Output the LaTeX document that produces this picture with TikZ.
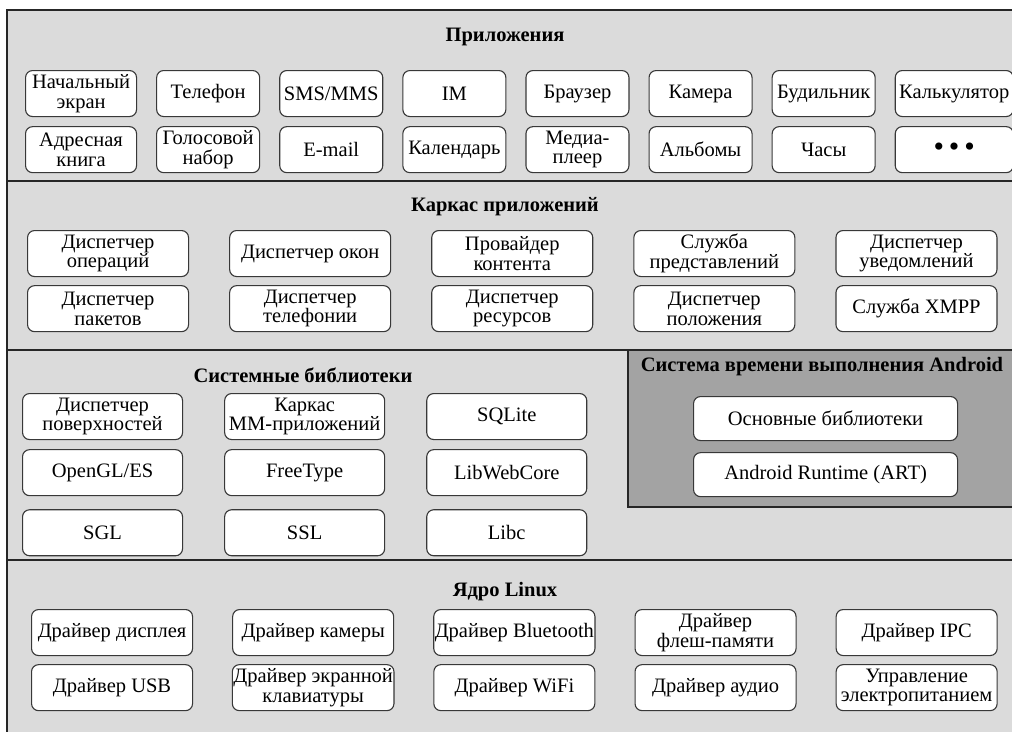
\documentclass[tikz,border=0pt]{standalone}
\usepackage{fontspec}
\setmainfont{Liberation Serif}
\usetikzlibrary{positioning}
\definecolor{layerbg}{gray}{0.86}
\definecolor{rtbg}{gray}{0.64}
\definecolor{edge}{gray}{0.22}

\begin{document}
\begin{tikzpicture}[
    x=1pt, y=-1pt,
    every node/.style={font=\fontsize{20.5}{19.5}\selectfont},
    box/.style={
      draw=edge,
      fill=white,
      rounded corners=7pt,
      align=center,
      line width=1.1pt,
      minimum height=46pt,
      inner xsep=1pt,
      inner ysep=1pt
    },
    app/.style={box, minimum width=103pt},
    wide/.style={box, minimum width=161pt},
    title/.style={font=\fontsize{20.5}{19.5}\selectfont\bfseries},
    sep/.style={line width=2.2pt, draw=black!85}
  ]
    \useasboundingbox (0,0) rectangle (1012,731);
    \fill[layerbg] (7,10) rectangle (1014,733);
    \fill[rtbg] (628,350) rectangle (1014,507);
    \draw[line width=1.6pt, draw=black!85] (628,350) -- (628,507) -- (1014,507);
    \draw[sep] (1014,10) -- (7,10) -- (7,733);
    \draw[sep] (7,181) -- (1014,181);
    \draw[sep] (7,350) -- (1014,350);
    \draw[sep] (7,560) -- (1014,560);

    % applications
    \node[title] (tapps) at (505,37) {Приложения};
    \node[app, minimum width=111pt, anchor=north west] (a1) at (25,70) {Начальный\\экран};
    \node[app, right=19pt of a1] (a2) {Телефон};
    \node[app, right=19pt of a2] (a3) {SMS/MMS};
    \node[app, right=19pt of a3] (a4) {IM};
    \node[app, right=19pt of a4] (a5) {Браузер};
    \node[app, right=19pt of a5] (a6) {Камера};
    \node[app, right=19pt of a6] (a7) {Будильник};
    \node[app, minimum width=118pt, right=19pt of a7] (a8) {Калькулятор};

    \node[app, minimum width=111pt, below=9pt of a1] (b1) {Адресная\\книга};
    \node[app, below=9pt of a2] (b2) {Голосовой\\набор};
    \node[app, below=9pt of a3] (b3) {E-mail};
    \node[app, below=9pt of a4] (b4) {Календарь};
    \node[app, below=9pt of a5] (b5) {Медиа-\\плеер};
    \node[app, below=9pt of a6] (b6) {Альбомы};
    \node[app, below=9pt of a7] (b7) {Часы};
    \node[app, minimum width=118pt, below=9pt of a8] (b8) {\fontsize{30}{30}\selectfont\textbullet\,\textbullet\,\textbullet};

    % application framework
    \node[title] (tfw) at (505,207) {Каркас приложений};
    \node[wide, anchor=north west] (c1) at (27,230) {Диспетчер\\операций};
    \node[wide, right=40pt of c1] (c2) {Диспетчер окон};
    \node[wide, right=40pt of c2] (c3) {Провайдер\\контента};
    \node[wide, right=40pt of c3] (c4) {Служба\\представлений};
    \node[wide, right=40pt of c4] (c5) {Диспетчер\\уведомлений};

    \node[wide, below=8pt of c1] (d1) {Диспетчер\\пакетов};
    \node[wide, below=8pt of c2] (d2) {Диспетчер\\телефонии};
    \node[wide, below=8pt of c3] (d3) {Диспетчер\\ресурсов};
    \node[wide, below=8pt of c4] (d4) {Диспетчер\\положения};
    \node[wide, below=8pt of c5] (d5) {Служба XMPP};

    % system libraries
    \node[title] (tlibs) at (303,375) {Системные библиотеки};
    \node[wide, minimum width=160pt, anchor=north west] (e1) at (22,393) {Диспетчер\\поверхностей};
    \node[wide, minimum width=160pt, right=41pt of e1] (e2) {Каркас\\ММ-приложений};
    \node[wide, minimum width=160pt, right=41pt of e2] (e3) {SQLite};
    \node[wide, minimum width=160pt, below=9pt of e1] (f1) {OpenGL/ES};
    \node[wide, minimum width=160pt, below=9pt of e2] (f2) {FreeType};
    \node[wide, minimum width=160pt, below=9pt of e3] (f3) {LibWebCore};
    \node[wide, minimum width=160pt, below=13pt of f1] (g1) {SGL};
    \node[wide, minimum width=160pt, below=13pt of f2] (g2) {SSL};
    \node[wide, minimum width=160pt, below=13pt of f3] (g3) {Libc};

    % android runtime
    \node[title] (trt) at (822,367) {Система времени выполнения Android};
    \node[box, minimum width=264pt, minimum height=44pt, anchor=north west] (r1) at (693,396) {Основные библиотеки};
    \node[box, minimum width=264pt, minimum height=44pt, below=11pt of r1] (r2) {Android Runtime (ART)};

    % linux kernel
    \node[title] (tkern) at (505,592) {Ядро Linux};
    \node[wide, anchor=north west] (k1) at (31,609) {Драйвер дисплея};
    \node[wide, right=39pt of k1] (k2) {Драйвер камеры};
    \node[wide, right=39pt of k2] (k3) {Драйвер Bluetooth};
    \node[wide, right=39pt of k3] (k4) {Драйвер\\флеш-памяти};
    \node[wide, right=39pt of k4] (k5) {Драйвер IPC};

    \node[wide, below=8pt of k1] (m1) {Драйвер USB};
    \node[wide, below=8pt of k2] (m2) {Драйвер экранной\\клавиатуры};
    \node[wide, below=8pt of k3] (m3) {Драйвер WiFi};
    \node[wide, below=8pt of k4] (m4) {Драйвер аудио};
    \node[wide, below=8pt of k5] (m5) {Управление\\электропитанием};
  \end{tikzpicture}
\end{document}
